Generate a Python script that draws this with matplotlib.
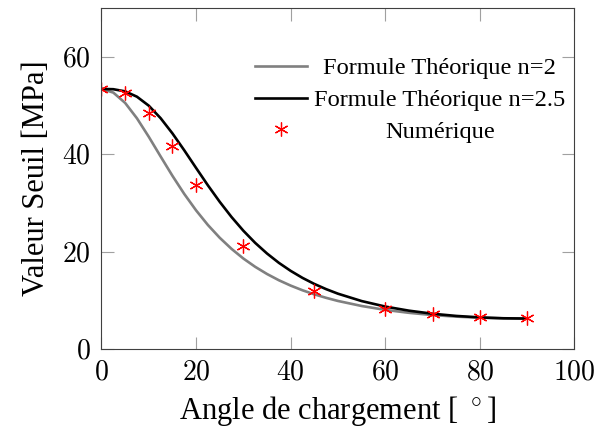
import matplotlib
matplotlib.use("Agg")
import matplotlib.pyplot as plt
from matplotlib.ticker import FuncFormatter, MultipleLocator

# angle de chargement [deg] -> valeur seuil [MPa]
theta_theo = [0, 2.5, 5, 7.5, 10, 12.5, 15, 17.5, 20, 22.5, 25, 27.5, 30,
              32.5, 35, 37.5, 40, 42.5, 45, 47.5, 50, 55, 60, 65, 70, 75,
              80, 85, 90]
seuil_n2 = [53.40, 52.65, 50.53, 47.37, 43.58, 39.55, 35.58, 31.86, 28.49,
            25.49, 22.87, 20.59, 18.61, 16.91, 15.44, 14.16, 13.06, 12.10,
            11.27, 10.55, 9.91, 8.88, 8.08, 7.48, 7.02, 6.70, 6.47, 6.34,
            6.30]
seuil_n25 = [53.40, 53.34, 52.90, 51.80, 49.96, 47.40, 44.28, 40.81, 37.19,
             33.62, 30.24, 27.12, 24.31, 21.82, 19.64, 17.73, 16.08, 14.64,
             13.40, 12.33, 11.40, 9.89, 8.76, 7.92, 7.29, 6.84, 6.54, 6.36,
             6.30]

theta_num = [0, 5, 10, 15, 20, 30, 45, 60, 70, 80, 90]
seuil_num = [53.3, 52.5, 48.5, 41.6, 33.7, 21.2, 12.0, 8.3, 7.2, 6.6, 6.4]

labels = ["Formule Théorique n=2", "Formule Théorique n=2.5", "Numérique"]

plt.rcParams["font.family"] = ["Liberation Serif", "DejaVu Serif"]
plt.rcParams["mathtext.fontset"] = "cm"

fig = plt.figure(figsize=(5.98, 4.34), dpi=100)
ax = fig.add_axes([0.1697, 0.1952, 0.7910, 0.7864])

ax.plot(theta_theo, seuil_n2, color="#808080", lw=1.9, label=labels[0])
ax.plot(theta_theo, seuil_n25, color="black", lw=1.9, label=labels[1])
ax.plot(theta_num, seuil_num, ls="none", marker=(6, 2, 0), ms=10,
        mew=0.9, color="red", label=labels[2])

ax.set_xlim(0, 100)
ax.set_ylim(0, 70)
ax.xaxis.set_major_locator(MultipleLocator(20))
ax.yaxis.set_major_locator(MultipleLocator(20))
fmt = FuncFormatter(lambda v, p: f"${v:.0f}$")
ax.xaxis.set_major_formatter(fmt)
ax.yaxis.set_major_formatter(fmt)
ax.tick_params(direction="in", length=9, width=0.8, color="#a0a0a0",
               top=True, right=True, labelsize=20, pad=8)
for sp in ax.spines.values():
    sp.set_color("#404040")
    sp.set_linewidth(0.8)

ax.set_xlabel("Angle de chargement [ $^\\circ$]", fontsize=22, labelpad=6)
ax.set_ylabel("Valeur Seuil [MPa]", fontsize=22, labelpad=8)

leg = ax.legend(loc="upper left", bbox_to_anchor=(0.3245, 0.856),
                frameon=False, fontsize=17.6, handlelength=2.13,
                handletextpad=0.29, labelspacing=0.40, borderpad=0,
                borderaxespad=0)

# textes de la légende centrés comme dans pgfplots
fig.canvas.draw()
renderer = fig.canvas.get_renderer()
boxes = [t.get_window_extent(renderer) for t in leg.get_texts()]
widest = max(boxes, key=lambda b: b.width)
cx = (widest.x0 + widest.x1) / 2
inv = fig.transFigure.inverted()
for t, b in zip(leg.get_texts(), boxes):
    t.set_visible(False)
    x, y = inv.transform((cx, (b.y0 + b.y1) / 2))
    fig.text(x, y, t.get_text(), ha="center", va="center", fontsize=17.6)

fig.savefig("out.png", dpi=100)
